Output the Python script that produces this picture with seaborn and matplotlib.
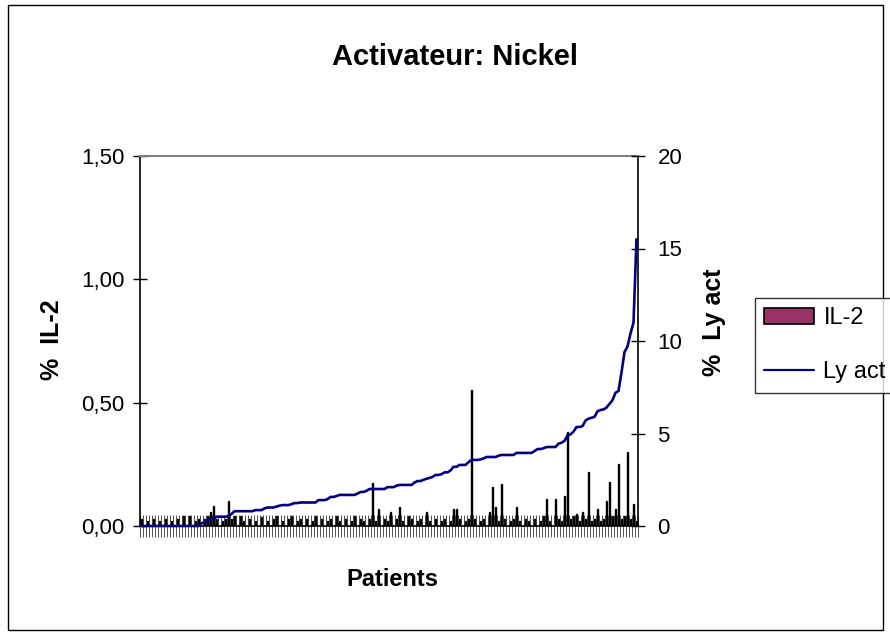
import numpy as np
import pandas as pd
import matplotlib
matplotlib.use("Agg")
import matplotlib.pyplot as plt
import seaborn as sns
from matplotlib.lines import Line2D
from matplotlib.patches import Patch, Rectangle
from matplotlib.ticker import FuncFormatter, MultipleLocator

# ---- data ----
title = "Activateur: Nickel"
xlabel = "Patients"
ylabel_left = "%  IL-2"
ylabel_right = "%  Ly act"
series_names = ["IL-2", "Ly act"]

il2 = [
    0.03, 0.00, 0.02, 0.00, 0.03, 0.00, 0.02, 0.00, 0.03, 0.00,
    0.02, 0.00, 0.03, 0.00, 0.04, 0.00, 0.04, 0.00, 0.02, 0.03,
    0.00, 0.03, 0.04, 0.057, 0.08, 0.03, 0.00, 0.02, 0.03, 0.10,
    0.03, 0.04, 0.00, 0.04, 0.02, 0.00, 0.03, 0.00, 0.02, 0.00,
    0.035, 0.00, 0.02, 0.00, 0.03, 0.04, 0.00, 0.02, 0.00, 0.03,
    0.04, 0.00, 0.02, 0.03, 0.00, 0.03, 0.00, 0.02, 0.04, 0.00,
    0.03, 0.00, 0.02, 0.03, 0.00, 0.04, 0.02, 0.00, 0.03, 0.00,
    0.02, 0.04, 0.00, 0.03, 0.02, 0.00, 0.03, 0.175, 0.02, 0.07,
    0.00, 0.03, 0.02, 0.057, 0.00, 0.03, 0.077, 0.02, 0.00, 0.04,
    0.03, 0.00, 0.02, 0.03, 0.00, 0.057, 0.02, 0.00, 0.03, 0.00,
    0.02, 0.03, 0.00, 0.02, 0.07, 0.07, 0.03, 0.00, 0.02, 0.03,
    0.55, 0.03, 0.00, 0.02, 0.03, 0.00, 0.057, 0.16, 0.077, 0.02,
    0.17, 0.03, 0.00, 0.02, 0.03, 0.077, 0.02, 0.00, 0.03, 0.02,
    0.00, 0.03, 0.00, 0.02, 0.04, 0.11, 0.02, 0.00, 0.11, 0.03,
    0.02, 0.12, 0.38, 0.03, 0.04, 0.05, 0.02, 0.057, 0.03, 0.22,
    0.02, 0.03, 0.07, 0.02, 0.03, 0.10, 0.18, 0.04, 0.07, 0.25,
    0.03, 0.04, 0.30, 0.03, 0.09, 0.02,
]

ly_act = [
    0, 0, 0, 0, 0, 0, 0, 0, 0, 0,
    0, 0, 0, 0, 0, 0, 0, 0, 0, 0,
    0.15, 0.2, 0.3, 0.35, 0.43, 0.5, 0.5, 0.5, 0.5, 0.55,
    0.65, 0.8, 0.8, 0.8, 0.8, 0.8, 0.8, 0.8, 0.86, 0.86,
    0.86, 0.95, 1.0, 1.0, 1.0, 1.05, 1.1, 1.13, 1.13, 1.13,
    1.18, 1.24, 1.24, 1.27, 1.27, 1.27, 1.27, 1.27, 1.27, 1.4,
    1.4, 1.4, 1.45, 1.57, 1.57, 1.62, 1.68, 1.68, 1.68, 1.68,
    1.68, 1.68, 1.75, 1.84, 1.84, 1.9, 2.0, 2.0, 2.0, 2.0,
    2.0, 2.0, 2.1, 2.1, 2.1, 2.18, 2.22, 2.22, 2.22, 2.22,
    2.22, 2.35, 2.43, 2.43, 2.5, 2.55, 2.6, 2.65, 2.76, 2.76,
    2.8, 2.9, 2.9, 3.0, 3.2, 3.2, 3.3, 3.3, 3.3, 3.45,
    3.57, 3.57, 3.57, 3.6, 3.65, 3.73, 3.73, 3.73, 3.73, 3.8,
    3.84, 3.84, 3.84, 3.84, 3.84, 3.95, 3.95, 3.95, 3.95, 3.95,
    3.95, 4.05, 4.16, 4.16, 4.2, 4.27, 4.27, 4.27, 4.27, 4.45,
    4.5, 4.6, 4.9, 4.95, 5.1, 5.35, 5.35, 5.4, 5.7, 5.8,
    5.85, 5.9, 6.2, 6.27, 6.3, 6.4, 6.6, 6.8, 7.2, 7.3,
    8.3, 9.4, 9.7, 10.4, 11.0, 15.5,
]

patients = list(range(len(il2)))
df = pd.DataFrame({"patient": patients, "il2": il2, "ly": ly_act})

sns.set_style("white")
plt.rcParams["font.family"] = ["Liberation Sans", "DejaVu Sans"]
plt.rcParams["text.color"] = "black"
plt.rcParams["axes.labelcolor"] = "black"
plt.rcParams["xtick.color"] = "black"
plt.rcParams["ytick.color"] = "black"

fig = plt.figure(figsize=(8.9, 6.33), dpi=100)
fig.patch.set_facecolor("white")
fig.add_artist(Rectangle((8 / 890, 1 - 630 / 633), 875 / 890, 625 / 633,
                         transform=fig.transFigure, fill=False,
                         edgecolor="black", linewidth=1.0))

ax = fig.add_axes([140 / 890, 1 - 526 / 633, 498 / 890, 370 / 633])

sns.barplot(data=df, x="patient", y="il2", ax=ax, color="#993366",
            edgecolor="black", linewidth=1.0, width=0.6, saturation=1)

n = len(il2)
ax.set_xlim(-0.5, n - 0.5)
ax.set_ylim(0, 1.5)
ax.yaxis.set_major_locator(MultipleLocator(0.5))
ax.yaxis.set_major_formatter(FuncFormatter(lambda v, p: f"{v:.2f}".replace(".", ",")))
ax.set_xticks(np.arange(-0.5, n, 1))
ax.set_xticklabels([])
ax.tick_params(axis="x", bottom=True, direction="inout", length=16, width=0.6,
               color="#333333")
ax.tick_params(axis="y", left=True, direction="inout", length=10, width=1,
               color="black", labelsize=16, pad=6, labelcolor="black")
ax.set_xlabel("")
ax.set_ylabel("")

for s in ["left", "right", "bottom"]:
    ax.spines[s].set_color("black")
    ax.spines[s].set_linewidth(1.2)
ax.spines["top"].set_color("#808080")
ax.spines["top"].set_linewidth(1.5)

ax2 = ax.twinx()
sns.lineplot(data=df, x="patient", y="ly", ax=ax2, color="#000080",
             linewidth=1.9, legend=False, clip_on=False)
ax2.set_xlim(-0.5, n - 0.5)
ax2.set_ylim(0, 20)
ax2.yaxis.set_major_locator(MultipleLocator(5))
ax2.tick_params(axis="y", right=True, direction="inout", length=10, width=1,
                color="black", labelsize=16, pad=9, labelcolor="black")
ax2.tick_params(axis="x", bottom=False, top=False)
ax2.set_ylabel("")
ax2.set_xlabel("")
for s in ["left", "right", "bottom", "top"]:
    ax2.spines[s].set_visible(False)

fig.text(455 / 890, 1 - 57 / 633, title, ha="center", va="center",
         fontsize=21, fontweight="bold")
fig.text(392 / 890, 1 - 580 / 633, xlabel, ha="center", va="center",
         fontsize=17, fontweight="bold")
fig.text(52 / 890, 1 - 340 / 633, ylabel_left, ha="center", va="center",
         rotation=90, fontsize=18, fontweight="bold")
fig.text(714 / 890, 1 - 322 / 633, ylabel_right, ha="center", va="center",
         rotation=90, fontsize=18, fontweight="bold")

handles = [Patch(facecolor="#993366", edgecolor="black", linewidth=1.2),
           Line2D([0], [0], color="#000080", linewidth=1.6)]
leg = fig.legend(handles, series_names, loc="upper left",
                 bbox_to_anchor=(755 / 890, 1 - 298 / 633),
                 frameon=True, fancybox=False, edgecolor="black",
                 fontsize=17, handlelength=2.1, handleheight=0.7,
                 handletextpad=0.4, borderpad=0.4, labelspacing=1.35,
                 borderaxespad=0)
leg.get_frame().set_linewidth(1.0)

fig.savefig("out.png", dpi=100, facecolor="white")
